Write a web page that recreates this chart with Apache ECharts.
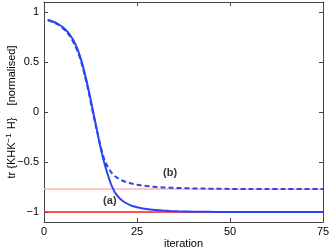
<!DOCTYPE html>
<html><head><meta charset="utf-8">
<script src="https://cdn.jsdelivr.net/npm/echarts@6/dist/echarts.min.js"></script>
<style>html,body{margin:0;padding:0;background:#fff}#c{width:332px;height:250px}</style>
</head><body><div id="c"></div>
<script>
const iterations = [1,2,3,4,5,6,7,8,9,10,11,12,13,14,15,16,17,18,19,20,21,22,23,24,25,26,27,28,29,30,32,34,36,38,40,43,46,50,55,60,65,70,75];
const seriesA = [0.92,0.91,0.895,0.875,0.85,0.815,0.77,0.71,0.63,0.52,0.38,0.22,0.04,-0.14,-0.32,-0.48,-0.61,-0.72,-0.80,-0.85,-0.885,-0.91,-0.928,-0.942,-0.953,-0.961,-0.968,-0.973,-0.977,-0.981,-0.986,-0.99,-0.993,-0.995,-0.997,-0.998,-0.999,-1,-1,-1,-1,-1,-1];
const seriesB = [0.92,0.905,0.89,0.87,0.84,0.805,0.755,0.69,0.61,0.50,0.36,0.20,0.02,-0.15,-0.31,-0.45,-0.54,-0.60,-0.64,-0.665,-0.685,-0.70,-0.71,-0.72,-0.727,-0.733,-0.738,-0.742,-0.746,-0.749,-0.754,-0.757,-0.76,-0.762,-0.764,-0.766,-0.768,-0.769,-0.77,-0.77,-0.77,-0.77,-0.77];
const refLevelA = -1;
const refLevelB = -0.77;
const annotationText = ['(a)', '(b)'];
const annotationX = [17.7, 33.9];
const annotationY = [-0.89, -0.61];
const xTicks = [0, 25, 50, 75];
const yTicks = [-1, -0.5, 0, 0.5, 1];

const font = 'Liberation Sans, Arial, sans-serif';
const frame = '#444';
const fmt = v => String(v).replace('-', '\u2212');
const chart = echarts.init(document.getElementById('c'));
const pairs = (xs, ys) => xs.map((x, i) => [x, ys[i]]);
chart.setOption({
  animation: false,
  grid: {left: 44, right: 9, top: 2, bottom: 28, containLabel: false, outerBoundsMode: 'none'},
  xAxis: [{
    type: 'value', min: 0, max: 75, interval: 25,
    name: 'iteration', nameLocation: 'middle', nameGap: 16, nameMoveOverlap: false,
    nameTextStyle: {fontFamily: font, fontSize: 11, color: '#000'},
    axisLine: {show: true, onZero: false, lineStyle: {color: frame, width: 1}},
    axisTick: {show: true, inside: true, length: 4, lineStyle: {color: frame}},
    axisLabel: {fontFamily: font, fontSize: 11, color: '#000', margin: 4, formatter: fmt},
    splitLine: {show: false}
  }, {
    type: 'value', min: 0, max: 75, interval: 25, position: 'top',
    axisLine: {show: true, onZero: false, lineStyle: {color: frame, width: 1}},
    axisTick: {show: true, inside: true, length: 4, lineStyle: {color: frame}},
    axisLabel: {show: false}, splitLine: {show: false}
  }],
  yAxis: [{
    type: 'value', min: -1.1, max: 1.1,
    name: '{a|tr {KHK}{s|\u22121}{a| H}' + '}    [normalised]',
    nameLocation: 'middle', nameGap: 26, nameRotate: 90, nameMoveOverlap: false,
    nameTextStyle: {fontFamily: font, fontSize: 11, color: '#000', lineHeight: 13,
      rich: {a: {fontFamily: font, fontSize: 11, color: '#000', lineHeight: 13},
             s: {fontFamily: font, fontSize: 8, color: '#000', lineHeight: 13, padding: [0,1,5,0]}}},
    axisLine: {show: true, onZero: false, lineStyle: {color: frame, width: 1}},
    axisTick: {show: true, inside: true, length: 4, customValues: yTicks, lineStyle: {color: frame}},
    axisLabel: {fontFamily: font, fontSize: 11, color: '#000', margin: 5, customValues: yTicks, formatter: fmt},
    splitLine: {show: false}
  }, {
    type: 'value', min: -1.1, max: 1.1, position: 'right',
    axisLine: {show: true, onZero: false, lineStyle: {color: frame, width: 1}},
    axisTick: {show: true, inside: true, length: 4, customValues: yTicks, lineStyle: {color: frame}},
    axisLabel: {show: false}, splitLine: {show: false}
  }],
  series: [
    {type: 'line', data: [[0, refLevelB], [75, refLevelB]], symbol: 'none', silent: true,
     lineStyle: {color: '#ffb3b3', width: 1.5}, z: 1},
    {type: 'line', data: [[0, refLevelA], [75, refLevelA]], symbol: 'none', silent: true,
     lineStyle: {color: '#ff1a1a', width: 1.5}, z: 1},
    {type: 'line', data: pairs(iterations, seriesB), symbol: 'none', smooth: 0.3,
     lineStyle: {color: '#2a44f5', width: 2, type: [5, 3]}, z: 2},
    {type: 'line', data: pairs(iterations, seriesA), symbol: 'none', smooth: 0.3,
     lineStyle: {color: '#2a44f5', width: 2}, z: 3},
    {type: 'scatter', data: pairs(annotationX, annotationY), symbolSize: 0, silent: true,
     label: {show: true, position: 'inside', fontFamily: font, fontSize: 11, fontWeight: 'bold', color: '#000',
       formatter: p => annotationText[p.dataIndex]}, z: 5}
  ]
});
</script></body></html>
